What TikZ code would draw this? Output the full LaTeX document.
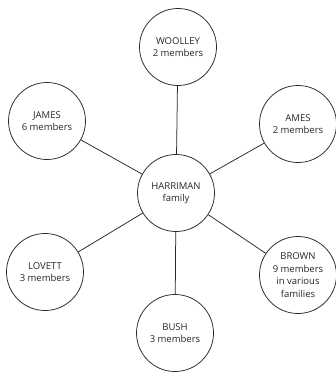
\documentclass[tikz,border=0pt]{standalone}
\usepackage{fontspec}
\setmainfont{Open Sans}
\usetikzlibrary{positioning}
\tikzset{
    famnode/.style={circle,draw=black!85,line width=0.75pt,minimum size=77pt,inner sep=0pt,
        align=center,text=black!85,font=\fontsize{9.5}{12.5}\selectfont},
    famedge/.style={line width=0.75pt,draw=black!85},
}
\begin{document}
\begin{tikzpicture}[x=1pt,y=-1pt]
  \useasboundingbox (0,0) rectangle (335,375);
  % Harriman in the middle, the six related families round it
  \node[famnode] (harriman) at (176,193) {HARRIMAN\\family};
  \node[famnode] (woolley) at (178,47) {WOOLLEY\\2 members};
  \node[famnode] (james) at (47,121) {JAMES\\6 members};
  \node[famnode] (ames) at (298,124) {AMES\\2 members};
  \node[famnode] (lovett) at (45,272) {LOVETT\\3 members};
  \node[famnode] (brown) at (298,275) {BROWN\\9 members\\in various\\families};
  \node[famnode] (bush) at (175,333) {BUSH\\3 members};
  \foreach \fam in {woolley,james,ames,lovett,brown,bush}{\draw[famedge] (harriman) -- (\fam);}
\end{tikzpicture}
\end{document}
